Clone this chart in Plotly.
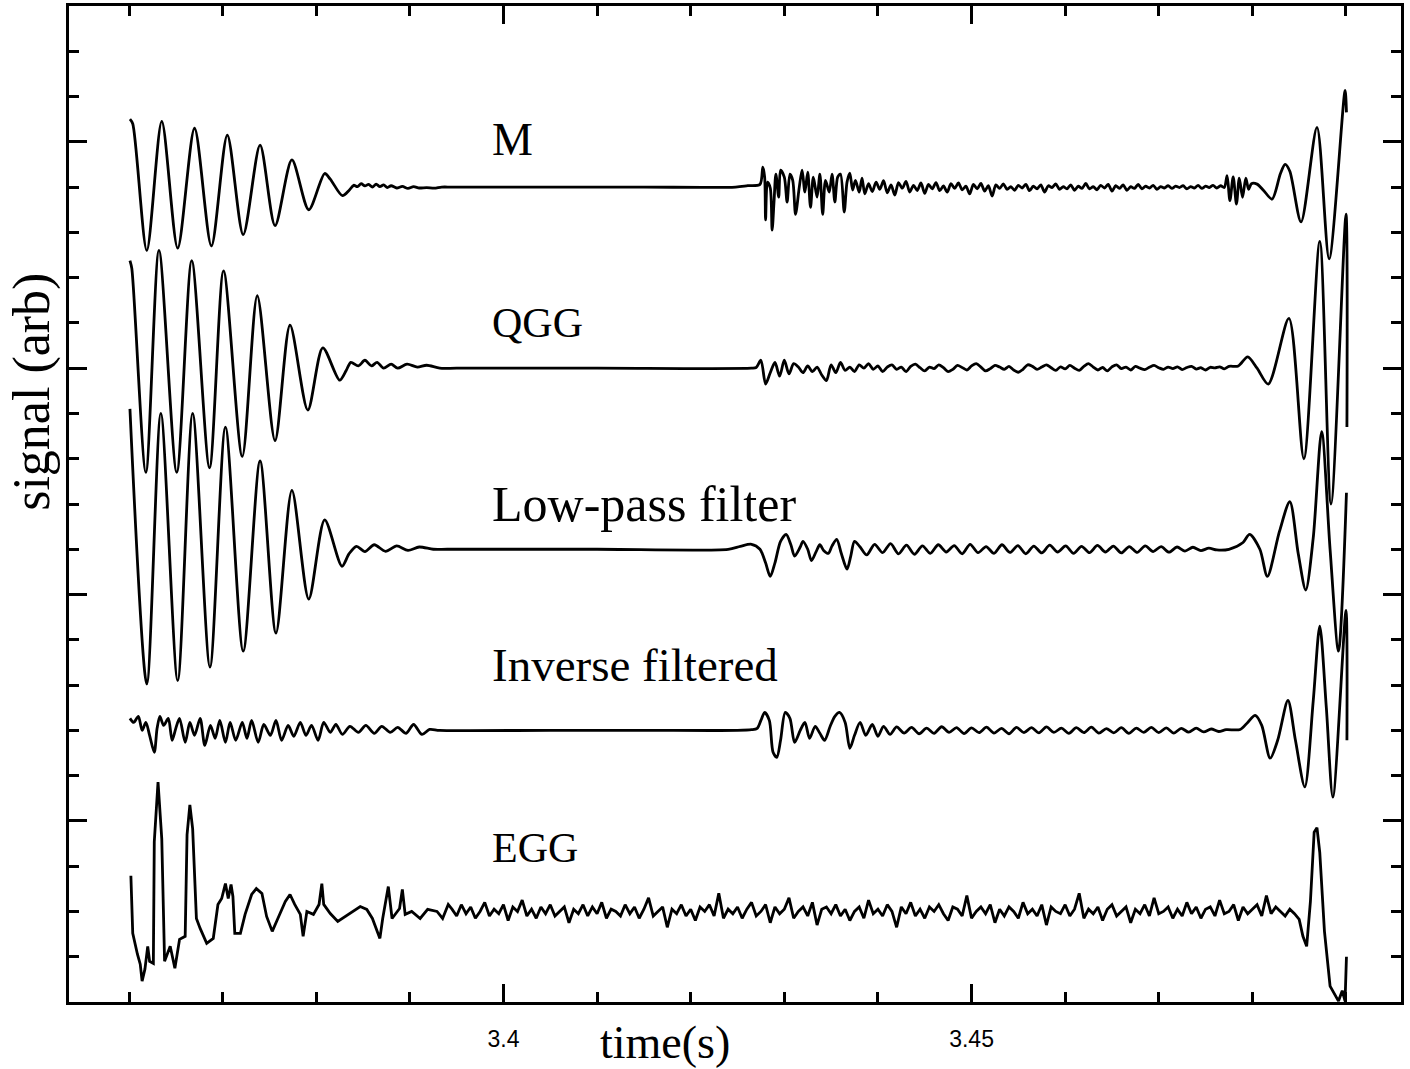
import plotly.graph_objects as go

# Sample times are in ms after T0 (s); values are in arbitrary signal units.
T0 = 3.36

# ---------------- M ----------------
M_T = [0.1, 0.4, 1.9, 3.5, 5.2, 7.0, 8.8, 10.5, 12.2, 14.0, 15.6, 17.4, 19.2, 20.9, 21.5, 22.8,
       23.5, 24.0, 24.4, 24.8, 25.2, 25.6, 26.0, 26.4, 26.8, 27.2, 27.6, 28.0, 28.6, 29.2, 29.8, 30.4,
       31.0, 31.8, 32.6, 33.4, 34.5, 45.0, 55.0, 64.8, 66.1, 67.4,
       67.7, 67.9, 68.0, 68.2, 68.5, 68.7, 68.9, 69.1, 69.4, 69.6, 70.0, 70.3, 70.6, 70.9, 71.2, 71.6,
       71.9, 72.2, 72.5, 72.8, 73.1, 73.5, 73.8, 74.1, 74.4, 74.8, 75.1, 75.4, 75.7, 76.0, 76.4, 76.7,
       77.0, 77.3, 77.6, 78.0, 78.3, 78.6]
M_V = [30, 28, -28, 29, -27, 26, -26, 23, -21, 18.5, -17, 12, -10, 6, 3.5, -3.8,
       -1.5, 0.8, 0.2, 1.5, 0.5, 1.2, 0, 1.3, 0.2, 1.0, -0.2, 0.6, -0.4, 0.3, -0.6, 0.2,
       -0.4, -0.2, -0.5, 0, 0, 0, 0, 0, 0.6, 1.2,
       8.8, 4.4, -14.5, 2.2, -0.4, -19, -6.6, 5.7, -4.4, 7.5, 4.4, -6.6, 5.7, 3, -12, 0,
       7.5, -2.2, 6.6, -9, 4.4, -4.4, 5.7, -12, 3, -2.2, 5.7, -6.6, 4.4, 5.7, -11, 2.2,
       6.2, -1.3, 3, -2.2, 4, -3]
M_NOISE_START, M_NOISE_STEP = 79.0, 0.4
M_NOISE = [1.5, -2.0, 2.2, -1.0, 2.8, -2.5, 1.0, -3.5, 2.0, -0.5,
           2.5, -2.2, 0.8, -1.5, 1.8, -2.8, 1.2, -0.8, 2.0, -1.6,
           0.5, -2.2, 1.5, -0.6, 1.8, -1.2, 0.4, -3.0, 1.2, -0.8,
           1.6, -1.8, 0.6, -4.0, 1.0, -0.6, 1.4, -1.0, 0.2, -1.4,
           0.8, -0.4, 1.2, -1.6, 0.4, -0.8, 1.0, -2.2, 0.6, -0.2,
           1.4, -1.0, 0.2, -0.8, 1.0, -1.4, 0.4, -0.6, 1.6, -0.8,
           0.2, -1.2, 0.8, -0.4, 1.2, -1.8, 0.6, -0.6, 1.0, -1.4,
           0.2, -0.6, 1.2, -0.8, 0.4, -0.4, 0.8, -1.0, 0.2, -0.4,
           0.6, -0.6, 0.4, -0.2, 0.6, -0.8, 0.2, -0.4, 0.8, -0.6,
           0.4, -0.2, 0.8, -0.4, 0.6, -0.2]
M_TAIL_T = [117.3, 117.6, 117.95, 118.3, 118.6, 118.95, 119.3, 119.6, 119.9,
            120.5, 121.2, 122.1, 123.0, 123.5, 124.0, 125.2, 126.9, 128.2, 129.9, 130.05]
M_TAIL_V = [5, -6, 4.5, -7.5, 4, -4.5, 4, -1, 1.5,
            1.3, -1.5, -5.3, 6, 10, 7, -15.4, 26.4, -31.7, 42.7, 33]

# ---------------- QGG ----------------
QGG_T = [0.1, 0.3, 1.8, 3.2, 5.1, 6.7, 8.6, 10.1, 12.1, 13.7, 15.6, 17.2, 19.1, 20.7, 22.5,
         23.2, 23.7, 24.5, 25.2, 25.9, 26.5, 27.2, 28.0, 28.7, 29.7, 30.8, 31.8, 33.2, 35.0, 50.0, 66.5]
QGG_V = [47.5, 44, -46, 52, -46, 47.5, -44, 43, -39, 32, -32, 19, -18.5, 9, -5.3,
         -1, 2.6, 1, 3.5, 1, 2.6, 0, 1.8, 0, 1.8, 0.5, 1.3, 0, 0, 0, 0]
QGG_NOISE_START, QGG_NOISE_STEP = 67.0, 0.5
QGG_NOISE = [0.3, 3.5, -7, -2, 2.5, -3.5, 3.5, -2.5, 2, 0.5,
             -2, 1, -1.5, 0.5, -3, -5.5, 1.5, -2, 2.5, -1,
             0.5, -1.5, 1.5, 0, 2, -0.5, 1, -1.5, 0.5, 1.5,
             -0.5, 0.5, -1.5, 0.8, 1.8, 0.2, -1.2, 0.5, -0.2, 1.5,
             0.2, -1.5, -0.5, 1.2, 0.3, -0.8, 1, 2, 0.5, -1.2,
             -0.2, 1.2, 0.5, -0.5, 0.8, -0.8, -1.8, -0.5, 1.5, 0.8,
             -0.5, 0.5, 1.5, 0.2, -1, 0.6, -0.3, 1.2, 0, -1,
             0.8, 2, 0.5, -0.8, 0.3, -1.2, 0.6, 1.5, -0.2, 0.5,
             -0.8, 0.8, 0, -0.6, 0.4, 1.2, 0.2, -0.5, 0.5, -0.2,
             0.6, -0.6, 0.3, 0.8, -0.4, 0.2, -0.8, 0.4, 0.1, 0.6,
             -0.3, 0.8]
QGG_TAIL_T = [118.5, 119.5, 120.5, 121.7, 123.9, 125.5, 127.2, 128.4, 130.0, 130.1]
QGG_TAIL_V = [1, 5, 0, -7, 22, -40, 56, -60, 68, -26]

# ---------------- Low-pass filter ----------------
LP_T = [0.1, 1.9, 3.4, 5.2, 6.8, 8.65, 10.3, 12.2, 14.0, 15.7, 17.4, 19.2, 20.9, 22.75,
        23.5, 24.3, 25.2, 26.2, 27.4, 28.6, 29.8, 31.0, 32.5, 34.0, 50.0, 64.0, 65.3, 66.5, 67.4,
        68.0, 68.5, 69.0, 69.6, 70.2, 70.7, 71.1, 71.7, 72.0, 72.5, 72.9, 73.4, 73.8, 74.2, 74.7,
        75.1, 75.6, 76.1, 76.7, 77.1, 77.5, 78.1]
LP_V = [62, -59.5, 60, -58, 60, -52, 54, -45, 39, -37, 26, -22, 13, -7.5,
        -2, 1.3, -1, 2, -0.9, 1.5, -0.5, 1, 0, 0, 0, 0, 1.3, 2.2, 0,
        -6, -12, -6, 3.5, 6.6, 2, -3, 1, 3.5, 0, -5, -1, 2, -0.5, -1.8,
        1.5, 4.4, -2, -8.8, -3, 3.5, 1]
LP_RIPPLE_START, LP_RIPPLE_STEP = 78.8, 0.85
LP_RIPPLE = [-2.5, 2.2, -1.5, 2.5, -2.0, 1.8, -2.2, 1.5, -1.8, 2.0,
             -1.2, 1.6, -2.0, 2.2, -1.5, 1.2, -1.8, 2.0, -1.4, 1.6,
             -2.0, 1.4, -1.6, 1.8, -1.2, 1.5, -1.8, 1.3, -1.5, 1.7,
             -1.2, 1.4, -1.6, 1.2, -1.4, 1.5, -1.0, 1.2, -1.3, 1.0,
             -0.8, 0.9, -0.6, 0.5, -0.3]
LP_TAIL_T = [117.5, 119.0, 119.7, 120.8, 121.6, 122.9, 124.0, 124.9, 125.7, 126.5, 127.4, 128.3, 129.2, 130.05]
LP_TAIL_V = [0, 3, 6.6, 0, -12, 8, 21, -2, -18, 5, 52, 0, -45, 25]

# ---------------- Inverse filtered ----------------
INV_T = [0.1, 0.5, 1.0, 1.4, 1.8, 2.2, 2.7, 3.0, 3.3, 3.7, 4.2, 4.6, 5.0, 5.4, 6.0, 6.5, 7.0, 7.6, 8.1, 8.7,
         9.2, 9.7, 10.3, 10.8, 11.4, 12.1, 12.6, 13.1, 13.8, 14.4, 15.1, 15.7, 16.3, 17.0, 17.6, 18.3, 18.9,
         19.5, 20.2, 20.8, 21.5, 22.1, 22.8, 23.6, 24.5, 25.3, 26.2, 27.0, 27.9, 28.7, 29.6, 30.4, 31.3, 32.1,
         33.2, 45.0, 55.0, 65.0, 66.5,
         67.1, 67.5, 67.9, 68.4, 68.8, 69.2, 69.6, 70.1, 70.6, 71.1, 71.7, 72.2, 72.7, 73.3, 73.8, 74.3,
         74.9, 75.4, 75.9, 76.5, 77.0, 77.5, 78.1, 78.7, 79.4, 80.0, 80.6, 81.3]
INV_V = [5.3, 3.5, 6.2, 0, 3.5, -2.2, -9.7, 0.9, 6.2, 2.2, 5.3, -4.4, 0.9, 5.3, -5.3, 3.5, -2.2, 5.3, -6.6, 2.2,
         -3.5, 4.4, -5.3, 3.5, -4.4, 3.5, -3.5, 4.4, -5.3, 2.6, -2.2, 4.4, -4.4, 2.2, -2.6, 3.5, -2.2,
         2.2, -4.4, 3.5, -0.9, 2.6, -1.8, 1.8, -0.9, 2.2, -1.3, 1.8, -0.9, 1.3, -1.3, 2.6, -1.8, 0.4,
         0, 0, 0, 0, 0.3,
         0.9, 4.4, 7.9, 4.4, -9.7, -11.9, -4.4, 7.9, 5.3, -5.3, 0, 3.5, -3.5, 1.8, -1.3, -4.4,
         1.8, 6.2, 7.9, 3.5, -7.9, -2.2, 3.5, -2.2, 2.6, -2.6, 1.8, -1.8]
INV_RIPPLE_START, INV_RIPPLE_STEP = 82.0, 0.8
INV_RIPPLE = [1.5, -1.2, 1.3, -1.5, 1.0, -1.3, 1.6, -0.9, 1.2, -1.4,
              1.1, -1.0, 1.4, -1.2, 0.9, -1.5, 1.3, -1.0, 1.2, -1.1,
              1.5, -0.9, 1.0, -1.3, 1.2, -1.0, 1.4, -1.2, 0.8, -1.1,
              1.2, -1.3, 1.0, -0.9, 1.3, -1.0, 1.1, -1.2, 0.9, -0.8,
              1.0, -0.7, 0.6, -0.5, 0.3]
INV_TAIL_T = [118.7, 119.5, 120.3, 121.0, 121.9, 122.7, 123.8, 124.6, 125.6, 126.5, 127.2, 127.9, 128.6, 130.0, 130.1]
INV_TAIL_V = [0.4, 3.5, 6.6, 2.2, -12.3, -4.4, 13.2, -4.4, -25, 13, 46, 10, -29.5, 53, -4.4]

# ---------------- EGG ----------------
EGG_T = [0.2, 0.4, 0.9, 1.2, 1.4, 1.7, 2.0, 2.2, 2.6, 2.7, 3.1, 3.5, 3.8, 4.4, 4.9, 5.4, 6.0, 6.2, 6.5, 6.8,
         7.2, 7.6, 8.3, 9.0, 9.5, 9.9, 10.3, 10.6, 10.9, 11.1, 11.3, 11.9, 12.4, 13.1, 13.6, 14.2, 14.7, 15.3,
         15.9, 16.7, 17.2, 17.7, 18.3, 18.6, 19.0, 19.7, 20.3, 20.6, 20.8, 21.5, 22.3, 23.1, 23.9, 24.7, 25.4,
         26.0, 26.4, 26.8, 27.1, 27.7, 28.1, 28.9, 29.2, 29.5, 30.2, 31.1, 31.9, 32.9, 33.5, 34.1]
EGG_V = [15.8, -9.7, -18.9, -23.3, -30.8, -25.5, -15.4, -22, -22.9, 30.8, 57.2, 32.1, -22, -15.4, -25.1, -12.3,
         -11, 33.9, 47.1, 36.5, -3.1, -7.5, -14.1, -11.9, 3.1, 5.7, 12.3, 5.7, 11.9, 6.6, -9.7, -9.7, -1.3, 7.5,
         10.1, 7.9, -2.2, -8.8, -3.1, 4.4, 7.5, 3.1, -1.3, -11, 0, -1.3, 3.1, 12.3, 3.1, -0.9, -4.4, -2.2, 0,
         2.2, 0.9, -3.1, -7.5, -11.9, -3.1, 11, -3.1, 1.3, 9.7, -1.3, 0, -3.1, 0.9, 0, -3.1, 3.1]
EGG_NOISE_START, EGG_NOISE_STEP = 34.5, 0.5
EGG_NOISE = [1, -2, 3, -1, 2, -3, 0, 4, -2, 1, -1, 3, -4, 2, 0, 5, -2, 1, -3, 2,
             -1, 3, -2, 0, 2, -5, 1, -1, 3, -2, 2, -1, 4, -3, 1, 0, -2, 3, -1, 2,
             -3, 1, 6, -2, 0, 2, -7, 1, -1, 3, -2, 1, -4, 2, 0, 3, -2, 8, -3, 1,
             -1, 2, -3, 1, 4, -2, 0, 3, -5, 2, -1, 1, 6, -3, 0, 2, -2, 4, -6, 1,
             2, -1, 3, -2, 1, -4, 0, 2, -3, 5, -1, 1, -2, 3, 0, -7, 2, -1, 4, -2,
             1, -3, 2, 0, 3, -1, -4, 2, 1, -2, 7, -3, 0, 2, -1, 3, -5, 1, -2, 2,
             0, -3, 4, -1, 1, -2, 3, -6, 2, 0, -1, 3, -2, 1, 8, -3, 1, -1, 2, -4,
             1, 3, -2, 0, 2, -5, 1, -1, 3, -2, 6, -1, 0, 2, -3, 1, -2, 4, -1, 2,
             -3, 1, 2, -2, 5, -1, 0, 3, -4, 2, -1, 1, 3, -2, 7, -1, 2, 0, -2, 1]
EGG_TAIL_T = [124.5, 125.0, 125.4, 125.8, 126.2, 126.6, 126.9, 127.2, 127.7, 128.3, 128.8, 129.2, 129.6, 129.9, 130.05]
EGG_TAIL_V = [-1, -3.5, -11, -15.4, 4.4, 35, 37, 26, -8.8, -33, -37, -39.6, -35, -39.6, -20]

NAMES = ["M", "QGG", "Low-pass filter", "Inverse filtered", "EGG"]
OFFSETS = [280, 200, 120, 40, -40]
LABEL_Y = [301, 220, 140, 69, -12]
LABEL_SIZE = [46, 42, 50, 47, 42]
LINE_SHAPE = ["spline", "spline", "spline", "spline", "linear"]


def block(start, step, values):
    return [start + i * step for i in range(len(values))], list(values)


def assemble(*parts):
    pts = []
    for t, v in parts:
        assert len(t) == len(v), (len(t), len(v))
        pts.extend(zip(t, v))
    pts.sort(key=lambda p: p[0])
    return [T0 + p[0] / 1000.0 for p in pts], [p[1] for p in pts]


SERIES = [
    assemble((M_T, M_V), block(M_NOISE_START, M_NOISE_STEP, M_NOISE), (M_TAIL_T, M_TAIL_V)),
    assemble((QGG_T, QGG_V), block(QGG_NOISE_START, QGG_NOISE_STEP, QGG_NOISE), (QGG_TAIL_T, QGG_TAIL_V)),
    assemble((LP_T, LP_V), block(LP_RIPPLE_START, LP_RIPPLE_STEP, LP_RIPPLE), (LP_TAIL_T, LP_TAIL_V)),
    assemble((INV_T, INV_V), block(INV_RIPPLE_START, INV_RIPPLE_STEP, INV_RIPPLE), (INV_TAIL_T, INV_TAIL_V)),
    assemble((EGG_T, EGG_V), block(EGG_NOISE_START, EGG_NOISE_STEP, EGG_NOISE), (EGG_TAIL_T, EGG_TAIL_V)),
]

SERIF = "Liberation Serif, Times New Roman, serif"

fig = go.Figure()
for name, offset, (t, v), ly, fs, shape in zip(NAMES, OFFSETS, SERIES, LABEL_Y, LABEL_SIZE, LINE_SHAPE):
    line = dict(color="black", width=2.8, shape=shape)
    if shape == "spline":
        line["smoothing"] = 0.8
    fig.add_trace(go.Scatter(
        x=t, y=[offset + s for s in v], mode="lines", name=name, line=line, hoverinfo="skip",
    ))
    fig.add_annotation(
        x=3.39857, y=ly, xref="x", yref="y", text=name,
        xanchor="left", yanchor="middle", showarrow=False,
        font=dict(family=SERIF, size=fs, color="black"),
    )

fig.add_annotation(
    x=0.4474, y=0, xref="paper", yref="paper", yshift=-40, text="time(s)",
    xanchor="center", yanchor="middle", showarrow=False,
    font=dict(family=SERIF, size=46, color="black"),
)
fig.add_annotation(
    x=-0.0278, y=0.6126, xref="paper", yref="paper", text="signal (arb)", textangle=-90,
    xanchor="center", yanchor="middle", showarrow=False,
    font=dict(family=SERIF, size=52, color="black"),
)

axis_common = dict(
    showline=True, linewidth=3, linecolor="black", mirror="ticks",
    ticks="inside", ticklen=18, tickwidth=2.5, tickcolor="black",
    showgrid=False, zeroline=False,
)
fig.update_xaxes(
    range=[3.35359, 3.495876], tickvals=[3.4, 3.45], ticktext=["3.4", "3.45"],
    tickfont=dict(family="Liberation Sans, Arial, sans-serif", size=23, color="black"),
    ticklabelstandoff=14,
    minor=dict(ticks="inside", ticklen=10, tickwidth=2.5, tickcolor="black", tick0=3.36, dtick=0.01, showgrid=False),
    **axis_common,
)
fig.update_yaxes(
    range=[-80, 360], tickvals=[0, 100, 200, 300], showticklabels=False,
    minor=dict(ticks="inside", ticklen=10, tickwidth=2.5, tickcolor="black", tick0=0, dtick=20, showgrid=False),
    **axis_common,
)
fig.update_layout(
    width=1410, height=1069, margin=dict(l=69, r=9, t=3, b=67),
    plot_bgcolor="white", paper_bgcolor="white", showlegend=False,
)

fig.write_html("out.html")
